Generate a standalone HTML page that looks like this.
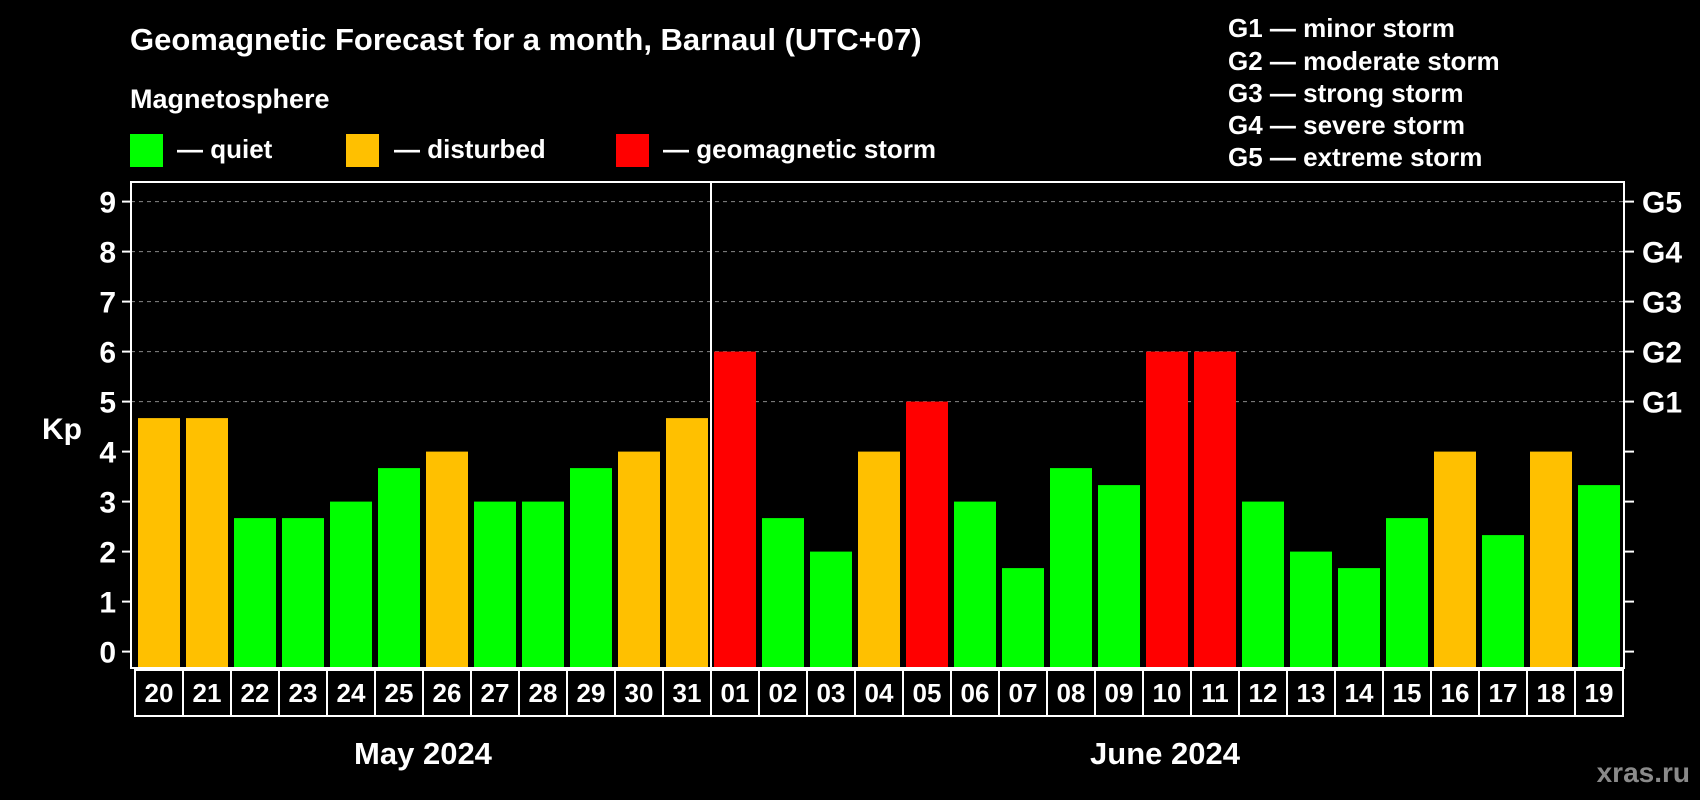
<!DOCTYPE html>
<html><head><meta charset="utf-8"><style>
body{margin:0;background:#000;}
svg{display:block;font-family:"Liberation Sans",Arial,sans-serif;font-weight:bold;}
</style></head><body>
<svg width="1700" height="800" xmlns="http://www.w3.org/2000/svg">
<rect width="1700" height="800" fill="#000"/>
<text x="130" y="50" fill="#fff" font-size="31">Geomagnetic Forecast for a month, Barnaul (UTC+07)</text>
<text x="130" y="108" fill="#fff" font-size="27">Magnetosphere</text>
<g><rect x="130" y="134" width="33" height="33" fill="#00ff00"/><text x="177" y="158" fill="#fff" font-size="26">— quiet</text></g>
<g><rect x="346" y="134" width="33" height="33" fill="#ffc000"/><text x="394" y="158" fill="#fff" font-size="26">— disturbed</text></g>
<g><rect x="616" y="134" width="33" height="33" fill="#ff0000"/><text x="663" y="158" fill="#fff" font-size="26">— geomagnetic storm</text></g>
<g fill="#fff" font-size="26">
<text x="1228" y="37">G1 — minor storm</text>
<text x="1228" y="70">G2 — moderate storm</text>
<text x="1228" y="102">G3 — strong storm</text>
<text x="1228" y="134">G4 — severe storm</text>
<text x="1228" y="166">G5 — extreme storm</text>
</g>
<text x="42" y="439" fill="#fff" font-size="30">Kp</text>
<g id="grid"></g>
<g id="bars"></g>
<g id="axes"></g>
<text x="423" y="764" fill="#fff" font-size="31" text-anchor="middle">May 2024</text>
<text x="1165" y="764" fill="#fff" font-size="31" text-anchor="middle">June 2024</text>
<text x="1690" y="782" fill="#8a8a8a" font-size="28" text-anchor="end">xras.ru</text>
</svg>
<script>
const days=["20","21","22","23","24","25","26","27","28","29","30","31","01","02","03","04","05","06","07","08","09","10","11","12","13","14","15","16","17","18","19"];
const kp=[4.67,4.67,2.67,2.67,3,3.67,4,3,3,3.67,4,4.67,6,2.67,2,4,5,3,1.67,3.67,3.33,6,6,3,2,1.67,2.67,4,2.33,4,3.33];
const yTicks=[0,1,2,3,4,5,6,7,8,9];
const gLabels=["G1","G2","G3","G4","G5"];
const NS="http://www.w3.org/2000/svg";
const L=131,R=1624,T=182,B=668;
function y(v){return 651.6-v*50;}
function xc(i){return 159+i*48;}
function mk(t,a,p){const e=document.createElementNS(NS,t);for(const k in a)e.setAttribute(k,a[k]);p.appendChild(e);return e;}
const grid=document.getElementById('grid'),bars=document.getElementById('bars'),axes=document.getElementById('axes');
yTicks.forEach(v=>{
 if(v>=5){const g=mk('line',{x1:L,x2:R,y1:y(v),y2:y(v),stroke:'#888','stroke-dasharray':'4 4','stroke-width':1},grid);
 
 }
 mk('line',{x1:122,x2:L,y1:y(v),y2:y(v),stroke:'#fff','stroke-width':2},axes);
 mk('line',{x1:R,x2:1634,y1:y(v),y2:y(v),stroke:'#fff','stroke-width':2},axes);
 const t=mk('text',{x:116,y:y(v)+11,fill:'#fff','font-size':30,'text-anchor':'end'},axes);t.textContent=v;
 
 
});
gLabels.forEach((g,i)=>{const t=mk('text',{x:1642,y:y(5+i)+11,fill:'#fff','font-size':30},axes);t.textContent=g;
 
 });
kp.forEach((v,i)=>{
 const c=v>=5?'#ff0000':(v>=4?'#ffc000':'#00ff00');
 const b=mk('rect',{x:xc(i)-21,y:y(v),width:42,height:B-y(v),fill:c},bars);
 
 
 mk('rect',{x:xc(i)-24,y:B+2,width:48,height:46,fill:'none',stroke:'#fff','stroke-width':2},axes);
 const t=mk('text',{x:xc(i),y:702,fill:'#fff','font-size':26,'text-anchor':'middle'},axes);t.textContent=days[i];
 
 
});
const f=mk('rect',{x:L,y:T,width:R-L,height:B-T,fill:'none',stroke:'#fff','stroke-width':2},axes);


const d=mk('line',{x1:xc(11.5),x2:xc(11.5),y1:T,y2:B,stroke:'#fff','stroke-width':2},axes);


</script>
</body></html>
